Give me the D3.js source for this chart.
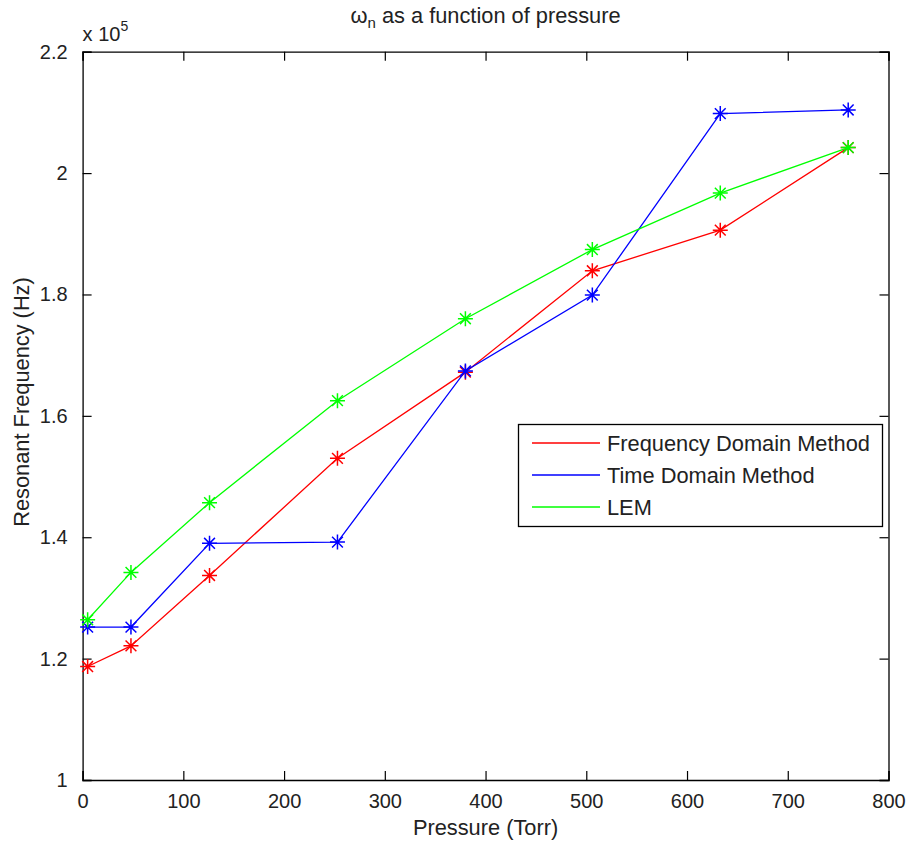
<!DOCTYPE html>
<html>
<head>
<meta charset="utf-8">
<script src="https://cdn.jsdelivr.net/npm/d3@7/dist/d3.min.js"></script>
<style>
  html, body { margin: 0; padding: 0; background: #fff; }
  svg text { font-family: "Liberation Sans", Arial, Helvetica, sans-serif; fill: #222; }
</style>
</head>
<body>
<svg id="chart" width="909" height="841"></svg>
<script>
// Pressure levels (Torr)
const pressure = [5, 48, 126, 253, 380, 506, 633, 760];

// Resonant frequency (Hz) for each method
const freqDomain = [118700, 122100, 133700, 153000, 167200, 183900, 190600, 204200];
const timeDomain = [125200, 125200, 139000, 139200, 167400, 179900, 209800, 210400];
const lem        = [126400, 134200, 145700, 162500, 176000, 187400, 196700, 204200];

const seriesNames  = ["Frequency Domain Method", "Time Domain Method", "LEM"];
const seriesColors = ["#ff0000", "#0000ff", "#00ff00"];

const xTicks = [0, 100, 200, 300, 400, 500, 600, 700, 800];
const yTicks = [100000, 120000, 140000, 160000, 180000, 200000, 220000];

const svg = d3.select("#chart");
const m = { left: 82.6, right: 888.5, top: 51.7, bottom: 780 };
const FS = 20;    // tick labels
const LFS = 21.8; // title, labels, legend

const x = d3.scaleLinear().domain([0, 800]).range([m.left, m.right]);
const y = d3.scaleLinear().domain([100000, 220000]).range([m.bottom, m.top]);

const fmtY = v => { const s = d3.format(".1f")(v / 1e5); return s.endsWith(".0") ? s.slice(0, -2) : s; };

// Axes with inward ticks on all four sides
const g = svg.append("g");
const axB = d3.axisBottom(x).tickValues(xTicks).tickSize(-9).tickPadding(14).tickFormat(d3.format("d"));
const axT = d3.axisTop(x).tickValues(xTicks).tickSize(-9).tickFormat("");
const axL = d3.axisLeft(y).tickValues(yTicks).tickSize(-9).tickPadding(15).tickFormat(fmtY);
const axR = d3.axisRight(y).tickValues(yTicks).tickSize(-9).tickFormat("");

g.append("g").attr("transform", `translate(0,${m.bottom})`).call(axB);
g.append("g").attr("transform", `translate(0,${m.top})`).call(axT);
g.append("g").attr("transform", `translate(${m.left},0)`).call(axL);
g.append("g").attr("transform", `translate(${m.right},0)`).call(axR);

g.selectAll(".domain").attr("stroke", "#000").attr("stroke-width", 1.3);
g.selectAll(".tick line").attr("stroke", "#000").attr("stroke-width", 1.2);
g.selectAll(".tick text").attr("font-size", FS).style("fill", "#222")
  .attr("font-family", "Liberation Sans, Arial, sans-serif");

// Exponent multiplier above the y axis
const mult = svg.append("text").attr("x", m.left).attr("y", 41).attr("font-size", FS);
mult.append("tspan").text("x 10");
mult.append("tspan").attr("font-size", 14).attr("dy", -10).text("5");

// Series lines with asterisk markers
const data = [freqDomain, timeDomain, lem];
const line = d3.line().x((d, i) => x(pressure[i])).y(d => y(d));
const star = (r) => `M${-r},0H${r}M0,${-r}V${r}M${-r*0.72},${-r*0.72}L${r*0.72},${r*0.72}M${-r*0.72},${r*0.72}L${r*0.72},${-r*0.72}`;

data.forEach((vals, k) => {
  svg.append("path").datum(vals).attr("d", line)
    .attr("fill", "none").attr("stroke", seriesColors[k]).attr("stroke-width", 1.3);
  svg.append("g").selectAll("path").data(vals).join("path")
    .attr("transform", (d, i) => `translate(${x(pressure[i])},${y(d)})`)
    .attr("d", star(7.5)).attr("fill", "none")
    .attr("stroke", seriesColors[k]).attr("stroke-width", 1.5);
});

// Legend
const lg = svg.append("g");
lg.append("rect").attr("x", 518.5).attr("y", 424.5).attr("width", 364).attr("height", 102)
  .attr("fill", "#fff").attr("stroke", "#000").attr("stroke-width", 1.3);
seriesNames.forEach((name, k) => {
  const yy = 443 + k * 32;
  lg.append("line").attr("x1", 532).attr("x2", 600).attr("y1", yy).attr("y2", yy)
    .attr("stroke", seriesColors[k]).attr("stroke-width", 1.3);
  lg.append("text").attr("x", 607).attr("y", yy + 7.5).attr("font-size", LFS).text(name);
});

// Title and axis labels
const title = svg.append("text").attr("x", (m.left + m.right) / 2).attr("y", 23)
  .attr("text-anchor", "middle").attr("font-size", LFS);
title.append("tspan").text("ω");
title.append("tspan").attr("font-size", 15).attr("dy", 5).text("n");
title.append("tspan").attr("dy", -5).text(" as a function of pressure");

svg.append("text").attr("x", (m.left + m.right) / 2).attr("y", 835)
  .attr("text-anchor", "middle").attr("font-size", LFS).text("Pressure (Torr)");

svg.append("text").attr("transform", `translate(29,402) rotate(-90)`)
  .attr("text-anchor", "middle").attr("font-size", LFS).text("Resonant Frequency (Hz)");
</script>
</body>
</html>
